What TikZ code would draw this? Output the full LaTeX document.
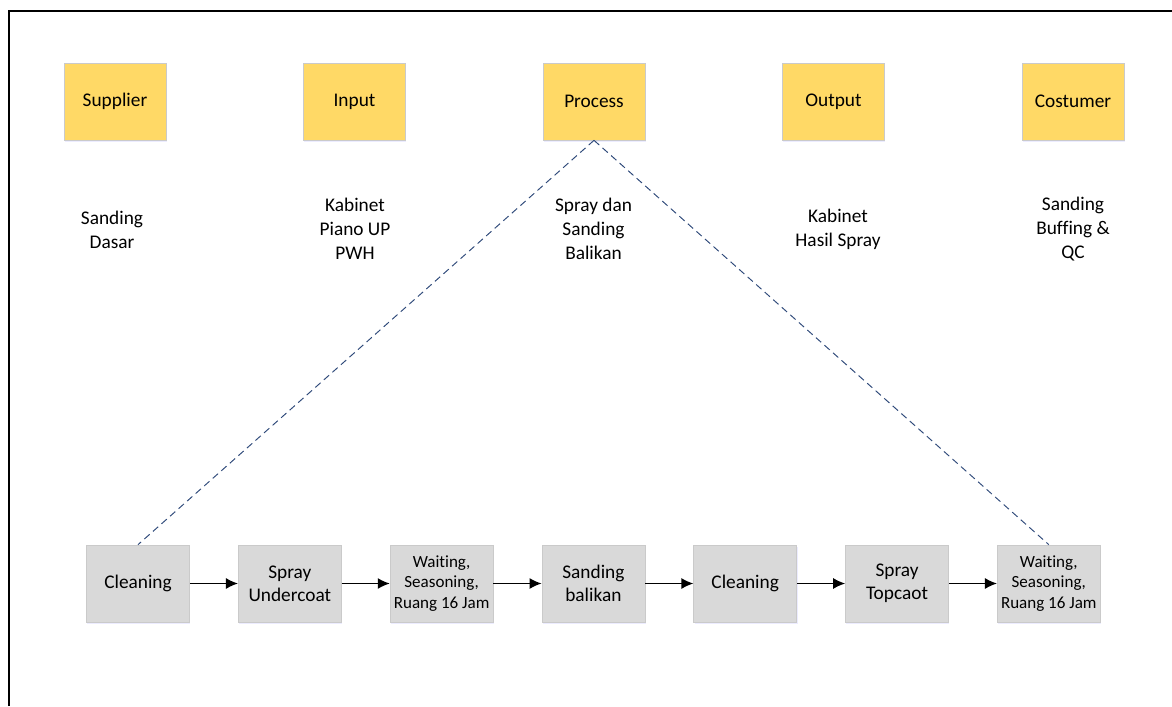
\documentclass[tikz,border=0pt]{standalone}
\usepackage{fontspec}
\setmainfont{Carlito}[Ligatures=NoCommon]
\usetikzlibrary{calc}
\usetikzlibrary{positioning}
\usetikzlibrary{arrows.meta}
\usetikzlibrary{shadows}
\definecolor{sipocyellow}{HTML}{FFD966}
\definecolor{stepgray}{HTML}{D9D9D9}
\definecolor{boxedge}{HTML}{CACACA}
\definecolor{linkblue}{HTML}{2F4A7A}
\tikzstyle{boxshadow} = [drop shadow={shadow xshift=0.5pt, shadow yshift=-1pt, fill=blue!30, opacity=0.25}]
\tikzstyle{sipocnode} = [draw=boxedge, fill=sipocyellow, boxshadow, minimum width=2.04cm, minimum height=1.54cm, align=center, font=\fontsize{11}{13.5}\selectfont]
\tikzstyle{infotext} = [align=center, inner sep=0pt, font=\fontsize{11}{13.5}\selectfont]
\tikzstyle{stepbox} = [draw=boxedge, fill=stepgray, boxshadow, minimum width=2.06cm, minimum height=1.54cm, align=center, inner sep=1pt, font=\fontsize{11}{13}\selectfont]
\tikzstyle{waitbox} = [stepbox, font=\fontsize{9.7}{11.8}\selectfont]
\tikzstyle{flow} = [-{Latex[length=2.4mm, width=2.2mm]}, line width=0.75pt]
\tikzstyle{link} = [dashed, dash pattern=on 4pt off 2.5pt, color=linkblue, line width=0.55pt]

\begin{document}
\begin{tikzpicture}[x=0.02cm, y=-0.02cm]
    \useasboundingbox (0,0) rectangle (1172,706);
    \draw[line width=1.1pt] (9,706) -- (9,11) -- (1172,11);

    % SIPOC row
    \node[sipocnode] (supplier) at (115,101.5) {Supplier};
    \node[sipocnode] (input) at ($(supplier)+(239.5,0)$) {Input};
    \node[sipocnode] (process) at ($(input)+(239.5,0)$) {Process};
    \node[sipocnode] (output) at ($(process)+(239.5,0)$) {Output};
    \node[sipocnode] (costumer) at ($(output)+(239.5,0)$) {Costumer};

    \node[infotext] (supplier_txt) at (112,230) {Sanding\\Dasar};
    \node[infotext] (input_txt) at (355,229) {Kabinet\\Piano UP\\PWH};
    \node[infotext] (process_txt) at (593.5,229) {Spray dan\\Sanding\\Balikan};
    \node[infotext] (output_txt) at (838,229) {Kabinet\\Hasil Spray};
    \node[infotext] (costumer_txt) at (1073,229) {Sanding\\Buffing \&\\QC};

    % process steps
    \node[stepbox] (clean_a) at (138,583.5) {Cleaning};
    \node[stepbox] (undercoat) at ($(clean_a)+(151.8,0)$) {Spray\\Undercoat};
    \node[waitbox] (wait_a) at ($(undercoat)+(151.8,0)$) {Waiting,\\Seasoning,\\Ruang 16 Jam};
    \node[stepbox] (sand_back) at ($(wait_a)+(151.8,0)$) {Sanding\\balikan};
    \node[stepbox] (clean_b) at ($(sand_back)+(151.8,0)$) {Cleaning};
    \node[stepbox] (topcoat) at ($(clean_b)+(151.8,0)$) {Spray\\Topcaot};
    \node[waitbox] (wait_b) at ($(topcoat)+(151.8,0)$) {Waiting,\\Seasoning,\\Ruang 16 Jam};
    \draw[flow] (clean_a) -- (undercoat);
    \draw[flow] (undercoat) -- (wait_a);
    \draw[flow] (wait_a) -- (sand_back);
    \draw[flow] (sand_back) -- (clean_b);
    \draw[flow] (clean_b) -- (topcoat);
    \draw[flow] (topcoat) -- (wait_b);

    \draw[link] (process.south) -- (clean_a.north);
    \draw[link] (process.south) -- (wait_b.north);
\end{tikzpicture}
\end{document}
